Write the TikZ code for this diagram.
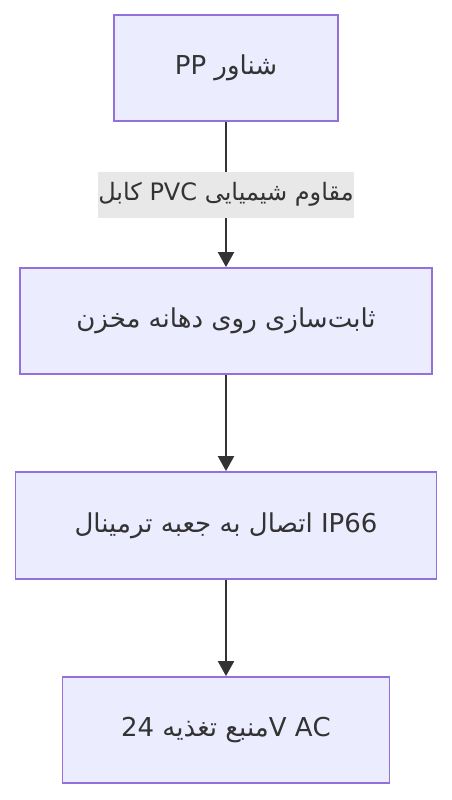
\documentclass[tikz,border=0pt]{standalone}
\usepackage{fontspec}
\setmainfont{DejaVu Sans}
\newfontfamily\arabicfont[Script=Arabic]{DejaVu Sans}
\TeXXeTstate=1
\usetikzlibrary{arrows.meta}
\definecolor{nodefill}{HTML}{ECECFF}
\definecolor{nodeline}{HTML}{9370DB}
\definecolor{edgecol}{HTML}{333333}
\definecolor{labelbg}{HTML}{E8E8E8}
\begin{document}
\begin{tikzpicture}[x=1pt,y=-1pt,
  stepbox/.style={draw=nodeline,fill=nodefill,line width=1.8pt,inner sep=0pt,
    text=edgecol,font=\arabicfont\fontsize{26}{31}\selectfont},
  edgelbl/.style={fill=labelbg,inner sep=0pt,text=edgecol,
    font=\arabicfont\fontsize{24}{29}\selectfont},
  conn/.style={draw=edgecol,line width=2pt,-{Triangle[length=15pt,width=16pt]}}]
\useasboundingbox (0,0) rectangle (452,800);
\node[stepbox,minimum width=224pt,minimum height=106pt] (n1) at (226,68) {\beginR شناور PP\endR};
\node[stepbox,minimum width=412pt,minimum height=106pt] (n2) at (226,321) {\beginR ثابت‌سازی روی دهانه مخزن\endR};
\node[stepbox,minimum width=421pt,minimum height=107pt] (n3) at (226,525.5) {\beginR IP66 اتصال به جعبه ترمینال\endR};
\node[stepbox,minimum width=327pt,minimum height=106pt] (n4) at (226,730) {24 \beginR منبع تغذیه\endR V AC};
\draw[conn] (n1) -- (n2) node[pos=0.5,edgelbl,minimum width=256pt,minimum height=46pt] (l1) {\beginR مقاوم شیمیایی PVC کابل\endR};
\draw[conn] (n2) -- (n3);
\draw[conn] (n3) -- (n4);
\end{tikzpicture}
\end{document}
